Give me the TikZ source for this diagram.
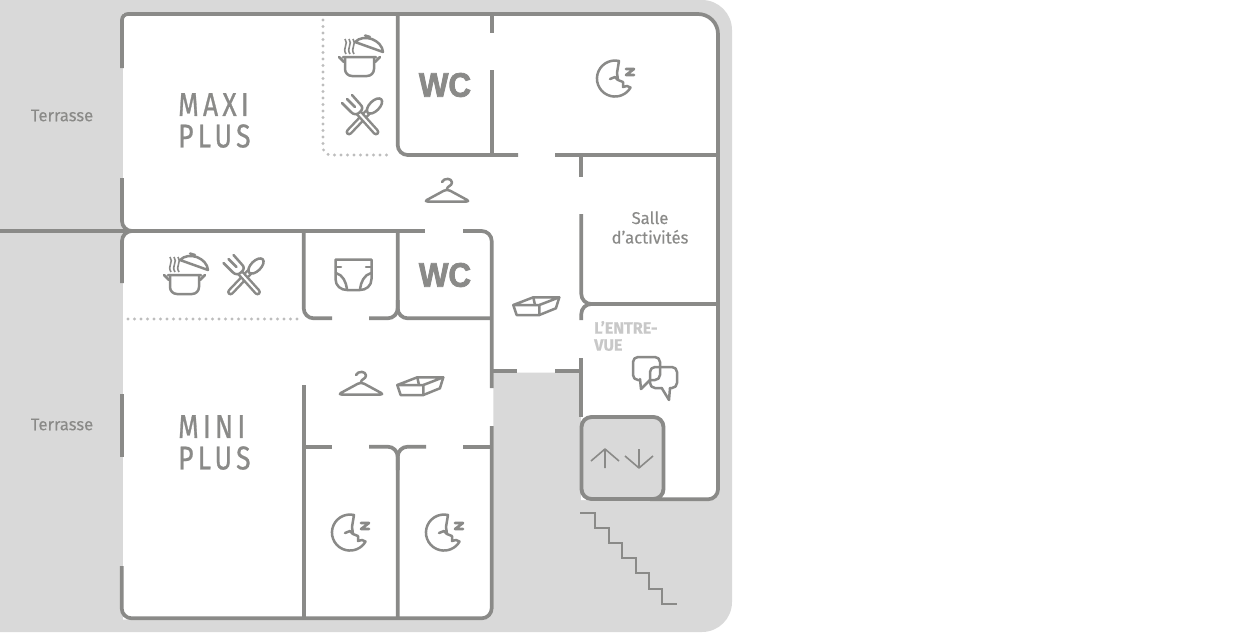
\documentclass[tikz,border=0pt]{standalone}
\usepackage{fontspec}
\setmainfont[FakeStretch=0.98,FakeBold=0.2]{Fira Sans}
\newfontfamily\roomfont[FakeStretch=0.8,LetterSpace=13,FakeBold=0.8]{Fira Sans}
\newfontfamily\wcfont[FakeStretch=0.92,FakeBold=2.4]{Liberation Sans Bold}
\newfontfamily\entrefont[FakeStretch=0.98,FakeBold=0.3]{Fira Sans Bold}
\definecolor{wallgrey}{HTML}{8A8A88}
\definecolor{floorgrey}{HTML}{D9D9D9}
\definecolor{dotgrey}{HTML}{BDBDBD}
\definecolor{signgrey}{HTML}{C8C8C8}
\tikzset{
  wall/.style={draw=wallgrey,line width=3.7pt},
  softwall/.style={wall,rounded corners=10pt},
  dotline/.style={draw=dotgrey,line width=3.2pt,line cap=round,dash pattern=on 0pt off 6.5pt},
  icon/.style={draw=wallgrey,line width=2.5pt,line join=round,line cap=round},
  thin icon/.style={draw=wallgrey,line width=1.6pt,line join=round},
  label/.style={text=wallgrey,inner sep=0pt},
  terrasselabel/.style={label,font=\fontsize{17}{18}\selectfont},
  roomlabel/.style={label,anchor=west,align=left,font=\fontsize{33}{31.5}\selectfont\roomfont},
  wclabel/.style={label,font=\fontsize{34}{35}\selectfont\wcfont},
  pot/.pic={
    \draw[icon] (-21,-3) -- (-16,2) (20,-3) -- (15,2) (-17,-3) -- (16,-3);
    \draw[icon,rounded corners=7pt] (-15,-3) -- (-15,16) -- (14,16) -- (14,-3);
    \draw[icon] (-5,-18) -- (23,-8) .. controls (22,-20) and (4,-27) .. cycle;
    \draw[icon] (5,-24.5) -- (10,-23);
    \foreach \s in {-15,-11,-7}
      \draw[thin icon] (\s,-21) .. controls (\s+4,-16) and (\s-3,-12) .. (\s+1,-6);
  },
  cutlery/.pic={
    % spoon first, the fork lies over it
    \draw[icon,double=white,double distance=2pt] (-13,17) -- (6,-3);
    \draw[icon,fill=white,rotate around={45:(12.5,-9)}] (12.5,-9) ellipse (9.5 and 5);
    \draw[icon,double=white,double distance=2pt] (14,17) -- (-4,-3);
    \draw[icon,fill=white] (-20,-12) -- (-11,-3) .. controls (-8,0) and (-5,0) .. (-2,-3)
      .. controls (1,-6) and (1,-8) .. (-2,-11) -- (-10,-20);
    \draw[icon] (-15,-16) -- (-7,-8);
  },
  hanger/.pic={
    \draw[icon] (-5,-8) .. controls (-3,-12.5) and (5,-12) .. (5,-7.5) .. controls (5,-4) and (0,-4) .. (0,-1);
    \draw[icon,rounded corners=3.5pt] (0,-1) -- (-23,11.5) -- (23,11.5) -- cycle;
  },
  tray/.pic={
    \draw[icon] (0,0) -- (20,-7.7) -- (46,-7.7) -- (26,0) -- cycle;
    \draw[icon] (0,0) -- (3.3,10) -- (26,10) -- (42.6,3.3) -- (46,-7.7);
    \draw[icon] (26,0) -- (26,10) (20,-7.7) -- (21.7,0);
  },
  moon/.pic={
    \draw[icon] (4,-18) arc[start angle=77,end angle=330,radius=18pt]
      -- (12,7) -- (8,8) -- (8,3) -- (3,1) -- (2,-6) -- cycle;
    \draw[icon] (-5,0) -- (0,-2) -- (3,1);
    \draw[icon,line width=2.6pt] (11,-10) -- (19,-10) -- (11,-4) -- (19,-4);
  },
}
\begin{document}
\begin{tikzpicture}[x=1pt,y=-1pt]
  \useasboundingbox (0,0) rectangle (1248,633);
  % ground and floor
  \fill[floorgrey] (0,0) [rounded corners=30pt] -- (732,0) -- (732,632) [sharp corners] -- (0,632) -- cycle;
  \fill[white] (123,13) [rounded corners=20pt] -- (719,13) [rounded corners=10pt] -- (719,500)
    [sharp corners] -- (581,500) -- (581,372.5) -- (493.3,372.5) [rounded corners=10pt] -- (493.3,619.5)
    [sharp corners] -- (123,619.5) -- cycle;
  % upper floor walls
  \draw[wall] (122,68) [rounded corners=6pt] -- (122,14) [rounded corners=20pt] -- (718,14)
    [rounded corners=10pt] -- (718,499.3) -- (650,499.3);
  \draw[softwall] (122,178) -- (122,231) -- (134,231);
  \draw[softwall] (134,231) -- (122,231) -- (122,283);
  \draw[wall] (0,231) -- (425,231);
  \draw[softwall] (463,231) -- (491.7,231) -- (491.7,388);
  \draw[softwall] (397.7,14) -- (397.7,155) -- (518,155);
  \draw[wall] (491.7,14) -- (491.7,33) (491.7,70) -- (491.7,155);
  \draw[wall] (555,155) -- (718,155);
  \draw[wall] (581.3,155) -- (581.3,177);
  \draw[softwall] (581.3,214) -- (581.3,304) -- (594,304);
  \draw[softwall] (594,304) -- (581.3,304) -- (581.3,320);
  \draw[wall] (591,304) -- (718,304);
  \draw[wall] (581.3,358) -- (581.3,417);
  \draw[wall] (491.7,370.7) -- (517,370.7) (555,370.7) -- (581.3,370.7);
  % lower floor walls
  \draw[softwall] (303.7,231) -- (303.7,318.3) -- (332,318.3);
  \draw[softwall] (369,318.3) -- (397.7,318.3) -- (397.7,231);
  \draw[softwall] (397.7,300) -- (397.7,318.3) -- (491.7,318.3);
  \draw[wall] (121.7,394) -- (121.7,457);
  \draw[softwall] (121.7,566) -- (121.7,618.3) -- (491.7,618.3) -- (491.7,426);
  \draw[wall] (303.7,385) -- (303.7,618.3);
  \draw[wall] (303.7,446.7) -- (332,446.7) (463,446.7) -- (491.7,446.7);
  \draw[softwall] (369,446.7) -- (397.7,446.7) -- (397.7,618.3);
  \draw[softwall] (397.7,470) -- (397.7,446.7) -- (426,446.7);
  % dotted limits of the kitchens
  \draw[dotline,rounded corners=8pt] (323,20) -- (323,155) -- (392,155);
  \draw[dotline] (128,319) -- (302,319);
  % lift
  \draw[wall,line width=3.9pt,fill=floorgrey,rounded corners=10pt] (581.5,417) rectangle (663.5,499);
  \draw[thin icon] (605,468) -- (605,449) (591,461) -- (605,449) -- (619,461);
  \draw[thin icon] (639,449) -- (639,468) (625,456) -- (639,468) -- (653,456);
  % stairs
  \draw[thin icon,line join=miter] (580,513) -- (595,513) -- (595,528) -- (609,528) -- (609,543) -- (622,543)
    -- (622,558) -- (636,558) -- (636,573) -- (649,573) -- (649,589) -- (662,589) -- (662,604) -- (677,604);
  % speech bubbles
  \draw[icon,rounded corners=5pt] (640,380) -- (633,380) -- (633,357) -- (660,357) -- (660,380) -- (650,380);
  \draw[icon] (640,379) -- (641,389) -- (650,380);
  \draw[icon,rounded corners=5pt] (662,388) -- (650,388) -- (650,367) -- (677,367) -- (677,388) -- (670,388);
  \draw[icon] (661.7,388) -- (669,400) -- (670,388);
  % icons
  \pic at (360,60) {pot};
  \pic at (185,278) {pot};
  \pic at (362,115) {cutlery};
  \pic at (243.5,275) {cutlery};
  \pic at (447,190) {hanger};
  \pic at (361,383) {hanger};
  \pic at (513.3,305) {tray};
  \pic at (397.3,385) {tray};
  \foreach \x/\y in {615/79,350/533,444/533}
    \pic at (\x,\y) {moon};
  % nappy
  \draw[icon] (335.5,259.5) -- (371.5,259.5) -- (371.5,279) .. controls (371.5,286) and (366,290) .. (360,290)
    -- (347,290) .. controls (341,290) and (335.5,286) .. (335.5,279) -- cycle;
  \draw[icon] (336,267) -- (341,267) (366,267) -- (371,267);
  \draw[icon] (336,273) .. controls (343,275) and (346,282) .. (347,289);
  \draw[icon] (371,273) .. controls (364,275) and (361,282) .. (360,289);
  % texts
  \node[terrasselabel] (terrasseup) at (62,115.5) {Terrasse};
  \node[terrasselabel] (terrassedown) at (62,424.5) {Terrasse};
  \node[roomlabel] (maxi) at (178,120.5) {MAXI\\PLUS};
  \node[roomlabel] (mini) at (178,442.5) {MINI\\PLUS};
  \node[wclabel] (wcup) at (445,85) {WC};
  \node[wclabel] (wcdown) at (445,275) {WC};
  \node[label,align=center,font=\fontsize{17}{19.5}\selectfont] (salle) at (650,227.5) {Salle\\d’activités};
  \node[inner sep=0pt,anchor=west,align=left,text=signgrey,font=\fontsize{16.5}{17}\selectfont\entrefont] (entrevue) at (594,336)
    {L’ENTRE-\\VUE};
\end{tikzpicture}
\end{document}
